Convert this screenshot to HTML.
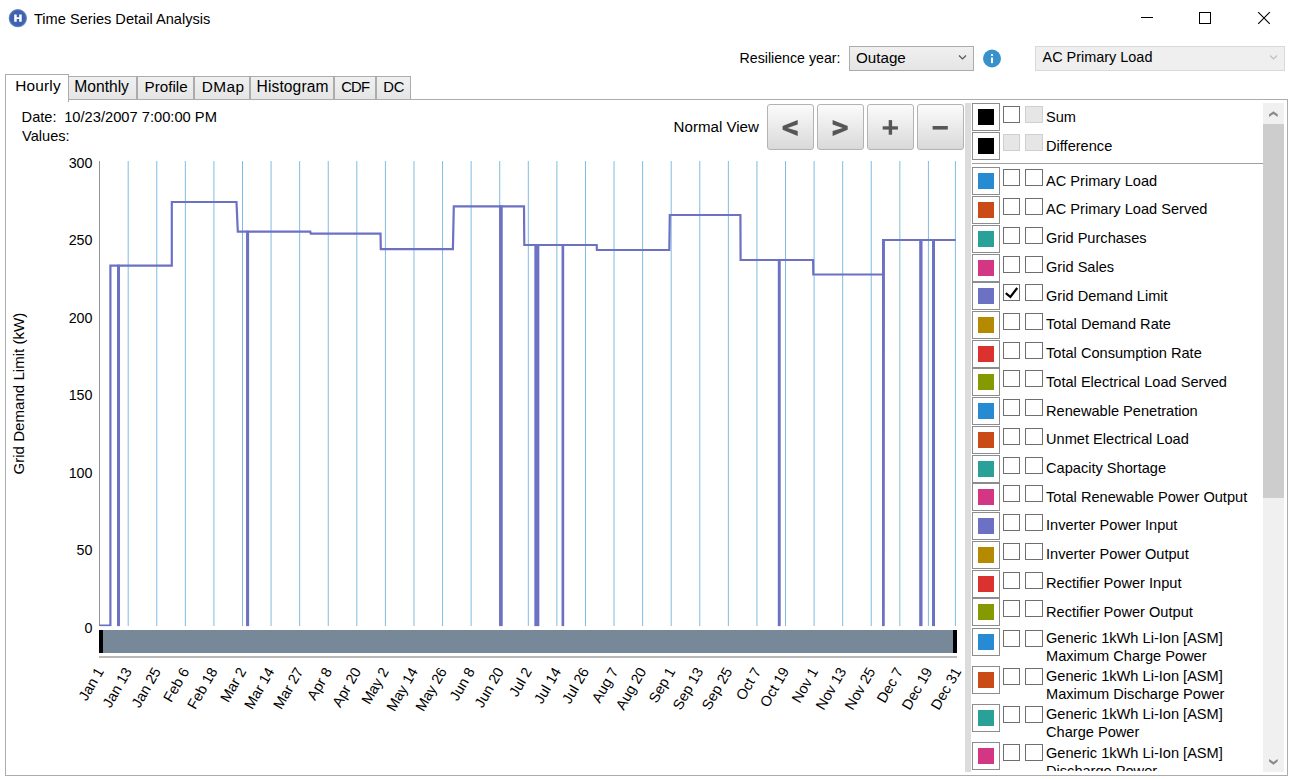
<!DOCTYPE html>
<html><head><meta charset="utf-8"><title>Time Series Detail Analysis</title>
<style>
html,body{margin:0;padding:0;width:1290px;height:779px;overflow:hidden;background:#fff;}
body{position:relative;font-family:"Liberation Sans", sans-serif;color:#000;}
.abs{position:absolute;box-sizing:content-box;}
.t{position:absolute;white-space:pre;line-height:1;}
.combo{border:1px solid #acacac;background:linear-gradient(#f0f0f0,#e5e5e5);}
.tab{border:1px solid #acacac;border-bottom:none;background:linear-gradient(#f0f0f0,#e5e5e5);}
.btn{border:1px solid #b3b3b3;border-radius:3px;background:linear-gradient(#fbfbfb,#d9d9d9);}
.xl{transform:rotate(-60deg);transform-origin:100% 84.65%;}
.sw{width:26px;height:26px;border:1px solid #8c8c8c;background:#fff;}
.sw div{position:absolute;left:5px;top:5px;width:16px;height:16px;}
.cb{border:1px solid #6f6f6f;background:#fff;}
.cb.dis{border-color:#cfcfcf;background:#e6e6e6;}
</style></head><body>
<svg class="abs" style="left:0;top:0" width="40" height="36">
<defs><filter id="bl" x="-30%" y="-30%" width="160%" height="160%"><feGaussianBlur stdDeviation="0.6"/></filter></defs>
<radialGradient id="ig"><stop offset="0.78" stop-color="#3d62b0"/><stop offset="0.9" stop-color="#3d62b0" stop-opacity="0.75"/><stop offset="1" stop-color="#3d62b0" stop-opacity="0"/></radialGradient><circle cx="17.8" cy="18.2" r="9.6" fill="url(#ig)"/>
<path d="M14.2 14.4h2.5v2.9h2.5v-2.9h2.5v7.4h-2.5v-2.8h-2.5v2.8h-2.5z" fill="#fff"/>
</svg>
<div class="t " style="left:34.0px;top:11.54px;font-size:14.6px;">Time Series Detail Analysis</div>
<svg class="abs" style="left:1130px;top:0" width="160" height="36">
<path d="M11 17.5h12" stroke="#000" stroke-width="1"/>
<rect x="69.5" y="12.5" width="11" height="11" fill="none" stroke="#000" stroke-width="1"/>
<path d="M128.2 12.2l11.6 11.6M139.8 12.2l-11.6 11.6" stroke="#000" stroke-width="1.1"/>
</svg>
<div class="t " style="left:739.5px;top:50.88px;font-size:14.2px;">Resilience year:</div>
<div class="abs combo" style="left:849px;top:46px;width:123px;height:23px;"></div>
<div class="t " style="left:856.0px;top:49.73px;font-size:15.2px;">Outage</div>
<svg class="abs" style="left:955px;top:50px" width="16" height="14"><path d="M4 5.5l3.5 3.5l3.5-3.5" fill="none" stroke="#555" stroke-width="1.2"/></svg>
<svg class="abs" style="left:980px;top:46px" width="24" height="24">
<circle cx="12" cy="12.5" r="9" fill="#3792cb"/>
<rect x="11" y="8" width="2" height="1.9" fill="#fff"/><rect x="11" y="11.6" width="2" height="5.5" fill="#fff"/>
</svg>
<div class="abs" style="left:1035px;top:46px;width:248px;height:23px;border:1px solid #d9d9d9;background:#efefef"></div>
<div class="t " style="left:1042.5px;top:50.37px;font-size:14.45px;">AC Primary Load</div>
<svg class="abs" style="left:1266px;top:50px" width="16" height="14"><path d="M4 5.5l3.5 3.5l3.5-3.5" fill="none" stroke="#bfbfbf" stroke-width="1.2"/></svg>
<div class="abs" style="left:5px;top:99px;width:1281px;height:675px;border:1px solid #acacac;background:#fff"></div>
<div class="abs tab" style="left:68px;top:76px;width:67px;height:22px;"></div>
<div class="t " style="left:74.3px;top:79.09px;font-size:15.6px;letter-spacing:0px;">Monthly</div>
<div class="abs tab" style="left:137px;top:76px;width:55px;height:22px;"></div>
<div class="t " style="left:144.6px;top:79.43px;font-size:15.2px;letter-spacing:0px;">Profile</div>
<div class="abs tab" style="left:194px;top:76px;width:54px;height:22px;"></div>
<div class="t " style="left:201.7px;top:79.26px;font-size:15.4px;letter-spacing:0.4px;">DMap</div>
<div class="abs tab" style="left:250px;top:76px;width:82px;height:22px;"></div>
<div class="t " style="left:256.6px;top:79.09px;font-size:15.6px;letter-spacing:0.1px;">Histogram</div>
<div class="abs tab" style="left:334px;top:76px;width:40px;height:22px;"></div>
<div class="t " style="left:341.2px;top:79.77px;font-size:14.8px;letter-spacing:-0.8px;">CDF</div>
<div class="abs tab" style="left:376px;top:76px;width:33px;height:22px;"></div>
<div class="t " style="left:383.2px;top:79.77px;font-size:14.8px;letter-spacing:0px;">DC</div>
<div class="abs" style="left:5px;top:74px;width:62px;height:27px;border:1px solid #acacac;border-bottom:none;background:#fff"></div>
<div class="t " style="left:15.2px;top:77.76px;font-size:15.4px;letter-spacing:0.2px;">Hourly</div>
<div class="t " style="left:21.6px;top:110.24px;font-size:14.6px;">Date:</div>
<div class="t " style="left:64.2px;top:110.16px;font-size:14.7px;">10/23/2007 7:00:00 PM</div>
<div class="t " style="left:22.0px;top:128.84px;font-size:14.6px;">Values:</div>
<div class="t " style="left:673.6px;top:118.62px;font-size:15.1px;">Normal View</div>
<div class="abs btn" style="left:767px;top:104px;width:45px;height:44px;"></div>
<div class="abs btn" style="left:817px;top:104px;width:45px;height:44px;"></div>
<div class="abs btn" style="left:867px;top:104px;width:45px;height:44px;"></div>
<div class="abs btn" style="left:917px;top:104px;width:45px;height:44px;"></div>
<svg class="abs" style="left:760px;top:100px" width="210" height="56">
<path d="M22.6 25.9L37.7 20V24.6L27.5 27.9L37.7 31.1V35.9L22.6 29.7Z" fill="#565656"/>
<path d="M87.7 25.9L72.6 20V24.6L82.8 27.9L72.6 31.1V35.9L87.7 29.7Z" fill="#565656"/>
<rect x="122.7" y="26.3" width="15.2" height="3.3" fill="#565656"/>
<rect x="128.7" y="20.1" width="3.4" height="14.6" fill="#565656"/>
<rect x="172.6" y="26" width="15.2" height="3.6" fill="#565656"/>
</svg>
<svg class="abs" style="left:0;top:0" width="965" height="779">
<line x1="128.18" y1="161" x2="128.18" y2="626" stroke="#80bcdf" stroke-width="1"/>
<line x1="156.76" y1="161" x2="156.76" y2="626" stroke="#80bcdf" stroke-width="1"/>
<line x1="185.34" y1="161" x2="185.34" y2="626" stroke="#80bcdf" stroke-width="1"/>
<line x1="213.92" y1="161" x2="213.92" y2="626" stroke="#80bcdf" stroke-width="1"/>
<line x1="242.50" y1="161" x2="242.50" y2="626" stroke="#80bcdf" stroke-width="1"/>
<line x1="271.08" y1="161" x2="271.08" y2="626" stroke="#80bcdf" stroke-width="1"/>
<line x1="299.66" y1="161" x2="299.66" y2="626" stroke="#80bcdf" stroke-width="1"/>
<line x1="328.24" y1="161" x2="328.24" y2="626" stroke="#80bcdf" stroke-width="1"/>
<line x1="356.82" y1="161" x2="356.82" y2="626" stroke="#80bcdf" stroke-width="1"/>
<line x1="385.40" y1="161" x2="385.40" y2="626" stroke="#80bcdf" stroke-width="1"/>
<line x1="413.98" y1="161" x2="413.98" y2="626" stroke="#80bcdf" stroke-width="1"/>
<line x1="442.56" y1="161" x2="442.56" y2="626" stroke="#80bcdf" stroke-width="1"/>
<line x1="471.14" y1="161" x2="471.14" y2="626" stroke="#80bcdf" stroke-width="1"/>
<line x1="499.72" y1="161" x2="499.72" y2="626" stroke="#80bcdf" stroke-width="1"/>
<line x1="528.30" y1="161" x2="528.30" y2="626" stroke="#80bcdf" stroke-width="1"/>
<line x1="556.88" y1="161" x2="556.88" y2="626" stroke="#80bcdf" stroke-width="1"/>
<line x1="585.46" y1="161" x2="585.46" y2="626" stroke="#80bcdf" stroke-width="1"/>
<line x1="614.04" y1="161" x2="614.04" y2="626" stroke="#80bcdf" stroke-width="1"/>
<line x1="642.62" y1="161" x2="642.62" y2="626" stroke="#80bcdf" stroke-width="1"/>
<line x1="671.20" y1="161" x2="671.20" y2="626" stroke="#80bcdf" stroke-width="1"/>
<line x1="699.78" y1="161" x2="699.78" y2="626" stroke="#80bcdf" stroke-width="1"/>
<line x1="728.36" y1="161" x2="728.36" y2="626" stroke="#80bcdf" stroke-width="1"/>
<line x1="756.94" y1="161" x2="756.94" y2="626" stroke="#80bcdf" stroke-width="1"/>
<line x1="785.52" y1="161" x2="785.52" y2="626" stroke="#80bcdf" stroke-width="1"/>
<line x1="814.10" y1="161" x2="814.10" y2="626" stroke="#80bcdf" stroke-width="1"/>
<line x1="842.68" y1="161" x2="842.68" y2="626" stroke="#80bcdf" stroke-width="1"/>
<line x1="871.26" y1="161" x2="871.26" y2="626" stroke="#80bcdf" stroke-width="1"/>
<line x1="899.84" y1="161" x2="899.84" y2="626" stroke="#80bcdf" stroke-width="1"/>
<line x1="928.42" y1="161" x2="928.42" y2="626" stroke="#80bcdf" stroke-width="1"/>
<line x1="955.40" y1="161" x2="955.40" y2="626" stroke="#80bcdf" stroke-width="1"/>
<line x1="99.5" y1="161" x2="99.5" y2="626" stroke="#939393" stroke-width="1"/>
<defs><clipPath id="pc"><rect x="99" y="150" width="857" height="476.3"/></clipPath></defs><g clip-path="url(#pc)">
<path d="M99.5 625.5 L110.4 625.5 L110.4 265.7 L118.5 265.7 L118.5 625.5 L118.5 265.7 L171.8 265.7 L171.8 202.0 L236.5 202.0 L237.8 231.7 L247.6 231.7 L247.6 625.5 L247.6 231.7 L310.3 231.7 L310.8 233.6 L380.5 233.6 L380.8 249.2 L452.9 249.2 L453.8 206.3 L501.0 206.3 L501.0 625.5 L501.0 206.3 L524.0 206.3 L524.3 245.0 L537.0 245.0 L537.0 625.5 L537.0 245.0 L563.0 245.0 L563.0 625.5 L563.0 245.0 L596.7 245.0 L596.9 250.0 L669.3 250.0 L669.8 215.0 L740.4 215.0 L740.6 260.0 L779.2 260.0 L779.2 625.5 L779.2 260.0 L813.1 260.0 L813.3 274.5 L883.3 274.5 L883.3 625.5 L883.8 240.0 L921.1 240.0 L921.1 625.5 L921.1 240.0 L933.2 240.0 L933.2 625.5 L933.2 240.0 L955.7 240.0" fill="none" stroke="#6c71c4" stroke-width="2.2" stroke-linejoin="miter"/>
<rect x="117.00" y="264.7" width="3.00" height="361.8" fill="#6c71c4" />
<rect x="246.10" y="230.7" width="3.00" height="395.8" fill="#6c71c4" />
<rect x="499.10" y="205.3" width="3.60" height="421.2" fill="#6c71c4" />
<rect x="534.35" y="244" width="5.00" height="382.5" fill="#6c71c4" />
<rect x="561.60" y="244" width="2.50" height="382.5" fill="#6c71c4" />
<rect x="777.80" y="259" width="2.80" height="367.5" fill="#6c71c4" />
<rect x="882.00" y="239" width="2.60" height="387.5" fill="#6c71c4" />
<rect x="919.20" y="239" width="3.20" height="387.5" fill="#6c71c4" />
<rect x="932.00" y="239" width="3.00" height="387.5" fill="#6c71c4" />
</g></svg>
<div class="abs" style="left:99px;top:630.4px;width:858px;height:22.8px;background:#778899"></div>
<div class="abs" style="left:99px;top:630.4px;width:4px;height:22.8px;background:#000"></div>
<div class="abs" style="left:953px;top:630.4px;width:3.6px;height:22.8px;background:#000"></div>
<div class="abs" style="left:99px;top:656.2px;width:857.5px;height:1.6px;background:#b9b9b9"></div>
<div class="t" style="right:1197.5px;top:620.70px;font-size:14.3px;text-align:right">0</div>
<div class="t" style="right:1197.5px;top:543.20px;font-size:14.3px;text-align:right">50</div>
<div class="t" style="right:1197.5px;top:465.70px;font-size:14.3px;text-align:right">100</div>
<div class="t" style="right:1197.5px;top:388.20px;font-size:14.3px;text-align:right">150</div>
<div class="t" style="right:1197.5px;top:310.70px;font-size:14.3px;text-align:right">200</div>
<div class="t" style="right:1197.5px;top:233.20px;font-size:14.3px;text-align:right">250</div>
<div class="t" style="right:1197.5px;top:155.70px;font-size:14.3px;text-align:right">300</div>
<div class="t" style="left:-61.2px;top:386.5px;width:160px;text-align:center;font-size:15.1px;transform:rotate(-90deg);transform-origin:50% 50%">Grid Demand Limit (kW)</div>
<div class="t xl" style="right:1185.90px;top:658.83px;font-size:14.5px">Jan 1</div>
<div class="t xl" style="right:1157.32px;top:658.83px;font-size:14.5px">Jan 13</div>
<div class="t xl" style="right:1128.74px;top:658.83px;font-size:14.5px">Jan 25</div>
<div class="t xl" style="right:1100.16px;top:658.83px;font-size:14.5px">Feb 6</div>
<div class="t xl" style="right:1071.58px;top:658.83px;font-size:14.5px">Feb 18</div>
<div class="t xl" style="right:1043.00px;top:658.83px;font-size:14.5px">Mar 2</div>
<div class="t xl" style="right:1014.42px;top:658.83px;font-size:14.5px">Mar 14</div>
<div class="t xl" style="right:985.84px;top:658.83px;font-size:14.5px">Mar 27</div>
<div class="t xl" style="right:957.26px;top:658.83px;font-size:14.5px">Apr 8</div>
<div class="t xl" style="right:928.68px;top:658.83px;font-size:14.5px">Apr 20</div>
<div class="t xl" style="right:900.10px;top:658.83px;font-size:14.5px">May 2</div>
<div class="t xl" style="right:871.52px;top:658.83px;font-size:14.5px">May 14</div>
<div class="t xl" style="right:842.94px;top:658.83px;font-size:14.5px">May 26</div>
<div class="t xl" style="right:814.36px;top:658.83px;font-size:14.5px">Jun 8</div>
<div class="t xl" style="right:785.78px;top:658.83px;font-size:14.5px">Jun 20</div>
<div class="t xl" style="right:757.20px;top:658.83px;font-size:14.5px">Jul 2</div>
<div class="t xl" style="right:728.62px;top:658.83px;font-size:14.5px">Jul 14</div>
<div class="t xl" style="right:700.04px;top:658.83px;font-size:14.5px">Jul 26</div>
<div class="t xl" style="right:671.46px;top:658.83px;font-size:14.5px">Aug 7</div>
<div class="t xl" style="right:642.88px;top:658.83px;font-size:14.5px">Aug 20</div>
<div class="t xl" style="right:614.30px;top:658.83px;font-size:14.5px">Sep 1</div>
<div class="t xl" style="right:585.72px;top:658.83px;font-size:14.5px">Sep 13</div>
<div class="t xl" style="right:557.14px;top:658.83px;font-size:14.5px">Sep 25</div>
<div class="t xl" style="right:528.56px;top:658.83px;font-size:14.5px">Oct 7</div>
<div class="t xl" style="right:499.98px;top:658.83px;font-size:14.5px">Oct 19</div>
<div class="t xl" style="right:471.40px;top:658.83px;font-size:14.5px">Nov 1</div>
<div class="t xl" style="right:442.82px;top:658.83px;font-size:14.5px">Nov 13</div>
<div class="t xl" style="right:414.24px;top:658.83px;font-size:14.5px">Nov 25</div>
<div class="t xl" style="right:385.66px;top:658.83px;font-size:14.5px">Dec 7</div>
<div class="t xl" style="right:357.08px;top:658.83px;font-size:14.5px">Dec 19</div>
<div class="t xl" style="right:328.50px;top:658.83px;font-size:14.5px">Dec 31</div>
<div class="abs" style="left:965px;top:103px;width:6px;height:669px;background:#dcdcdc"></div>
<div class="abs sw" style="left:972px;top:103.0px;"><div style="background:#000"></div></div>
<div class="abs cb" style="left:1003px;top:106.0px;width:15px;height:15px"></div>
<div class="abs cb dis" style="left:1025px;top:106.0px;width:16px;height:15px"></div>
<div class="t " style="left:1046.3px;top:109.30px;font-size:15px;transform:scaleX(0.973);transform-origin:0 0;">Sum</div>
<div class="abs sw" style="left:972px;top:132.4px;"><div style="background:#000"></div></div>
<div class="abs cb dis" style="left:1003px;top:134.2px;width:15px;height:15px"></div>
<div class="abs cb dis" style="left:1025px;top:134.2px;width:16px;height:15px"></div>
<div class="t " style="left:1046.3px;top:138.20px;font-size:15px;transform:scaleX(0.973);transform-origin:0 0;">Difference</div>
<div class="abs" style="left:972px;top:163px;width:291px;height:1px;background:#a0a0a0"></div>
<div class="abs sw" style="left:972px;top:167.3px;"><div style="background:#268bd2"></div></div>
<div class="abs cb" style="left:1003px;top:169.3px;width:15px;height:15px"></div>
<div class="abs cb" style="left:1025px;top:169.3px;width:16px;height:15px"></div>
<div class="t " style="left:1046.3px;top:173.00px;font-size:15px;transform:scaleX(0.973);transform-origin:0 0;">AC Primary Load</div>
<div class="abs sw" style="left:972px;top:196.0px;"><div style="background:#cb4b16"></div></div>
<div class="abs cb" style="left:1003px;top:198.0px;width:15px;height:15px"></div>
<div class="abs cb" style="left:1025px;top:198.0px;width:16px;height:15px"></div>
<div class="t " style="left:1046.3px;top:201.00px;font-size:15px;transform:scaleX(0.973);transform-origin:0 0;">AC Primary Load Served</div>
<div class="abs sw" style="left:972px;top:224.8px;"><div style="background:#2aa198"></div></div>
<div class="abs cb" style="left:1003px;top:226.8px;width:15px;height:15px"></div>
<div class="abs cb" style="left:1025px;top:226.8px;width:16px;height:15px"></div>
<div class="t " style="left:1046.3px;top:230.00px;font-size:15px;transform:scaleX(0.973);transform-origin:0 0;">Grid Purchases</div>
<div class="abs sw" style="left:972px;top:253.5px;"><div style="background:#d33682"></div></div>
<div class="abs cb" style="left:1003px;top:255.5px;width:15px;height:15px"></div>
<div class="abs cb" style="left:1025px;top:255.5px;width:16px;height:15px"></div>
<div class="t " style="left:1046.3px;top:259.00px;font-size:15px;transform:scaleX(0.973);transform-origin:0 0;">Grid Sales</div>
<div class="abs sw" style="left:972px;top:282.2px;"><div style="background:#6c71c4"></div></div>
<div class="abs cb" style="left:1003px;top:284.2px;width:15px;height:15px"></div>
<div class="abs cb" style="left:1025px;top:284.2px;width:16px;height:15px"></div>
<svg class="abs" style="left:1003px;top:284.2px" width="17" height="17"><path d="M2.8 9.2l4.6 3.8l6.8-9" fill="none" stroke="#000" stroke-width="2.2"/></svg>
<div class="t " style="left:1046.3px;top:288.00px;font-size:15px;transform:scaleX(0.973);transform-origin:0 0;">Grid Demand Limit</div>
<div class="abs sw" style="left:972px;top:311.0px;"><div style="background:#b58900"></div></div>
<div class="abs cb" style="left:1003px;top:313.0px;width:15px;height:15px"></div>
<div class="abs cb" style="left:1025px;top:313.0px;width:16px;height:15px"></div>
<div class="t " style="left:1046.3px;top:316.00px;font-size:15px;transform:scaleX(0.973);transform-origin:0 0;">Total Demand Rate</div>
<div class="abs sw" style="left:972px;top:339.7px;"><div style="background:#dc322f"></div></div>
<div class="abs cb" style="left:1003px;top:341.7px;width:15px;height:15px"></div>
<div class="abs cb" style="left:1025px;top:341.7px;width:16px;height:15px"></div>
<div class="t " style="left:1046.3px;top:345.00px;font-size:15px;transform:scaleX(0.973);transform-origin:0 0;">Total Consumption Rate</div>
<div class="abs sw" style="left:972px;top:368.4px;"><div style="background:#859900"></div></div>
<div class="abs cb" style="left:1003px;top:370.4px;width:15px;height:15px"></div>
<div class="abs cb" style="left:1025px;top:370.4px;width:16px;height:15px"></div>
<div class="t " style="left:1046.3px;top:374.00px;font-size:15px;transform:scaleX(0.973);transform-origin:0 0;">Total Electrical Load Served</div>
<div class="abs sw" style="left:972px;top:397.1px;"><div style="background:#268bd2"></div></div>
<div class="abs cb" style="left:1003px;top:399.1px;width:15px;height:15px"></div>
<div class="abs cb" style="left:1025px;top:399.1px;width:16px;height:15px"></div>
<div class="t " style="left:1046.3px;top:403.00px;font-size:15px;transform:scaleX(0.973);transform-origin:0 0;">Renewable Penetration</div>
<div class="abs sw" style="left:972px;top:425.9px;"><div style="background:#cb4b16"></div></div>
<div class="abs cb" style="left:1003px;top:427.9px;width:15px;height:15px"></div>
<div class="abs cb" style="left:1025px;top:427.9px;width:16px;height:15px"></div>
<div class="t " style="left:1046.3px;top:431.00px;font-size:15px;transform:scaleX(0.973);transform-origin:0 0;">Unmet Electrical Load</div>
<div class="abs sw" style="left:972px;top:454.6px;"><div style="background:#2aa198"></div></div>
<div class="abs cb" style="left:1003px;top:456.6px;width:15px;height:15px"></div>
<div class="abs cb" style="left:1025px;top:456.6px;width:16px;height:15px"></div>
<div class="t " style="left:1046.3px;top:460.00px;font-size:15px;transform:scaleX(0.973);transform-origin:0 0;">Capacity Shortage</div>
<div class="abs sw" style="left:972px;top:483.3px;"><div style="background:#d33682"></div></div>
<div class="abs cb" style="left:1003px;top:485.3px;width:15px;height:15px"></div>
<div class="abs cb" style="left:1025px;top:485.3px;width:16px;height:15px"></div>
<div class="t " style="left:1046.3px;top:489.00px;font-size:15px;transform:scaleX(0.973);transform-origin:0 0;">Total Renewable Power Output</div>
<div class="abs sw" style="left:972px;top:512.1px;"><div style="background:#6c71c4"></div></div>
<div class="abs cb" style="left:1003px;top:514.1px;width:15px;height:15px"></div>
<div class="abs cb" style="left:1025px;top:514.1px;width:16px;height:15px"></div>
<div class="t " style="left:1046.3px;top:517.00px;font-size:15px;transform:scaleX(0.973);transform-origin:0 0;">Inverter Power Input</div>
<div class="abs sw" style="left:972px;top:540.8px;"><div style="background:#b58900"></div></div>
<div class="abs cb" style="left:1003px;top:542.8px;width:15px;height:15px"></div>
<div class="abs cb" style="left:1025px;top:542.8px;width:16px;height:15px"></div>
<div class="t " style="left:1046.3px;top:546.00px;font-size:15px;transform:scaleX(0.973);transform-origin:0 0;">Inverter Power Output</div>
<div class="abs sw" style="left:972px;top:569.5px;"><div style="background:#dc322f"></div></div>
<div class="abs cb" style="left:1003px;top:571.5px;width:15px;height:15px"></div>
<div class="abs cb" style="left:1025px;top:571.5px;width:16px;height:15px"></div>
<div class="t " style="left:1046.3px;top:575.00px;font-size:15px;transform:scaleX(0.973);transform-origin:0 0;">Rectifier Power Input</div>
<div class="abs sw" style="left:972px;top:598.2px;"><div style="background:#859900"></div></div>
<div class="abs cb" style="left:1003px;top:600.2px;width:15px;height:15px"></div>
<div class="abs cb" style="left:1025px;top:600.2px;width:16px;height:15px"></div>
<div class="t " style="left:1046.3px;top:604.00px;font-size:15px;transform:scaleX(0.973);transform-origin:0 0;">Rectifier Power Output</div>
<div class="abs sw" style="left:972px;top:628.0px;"><div style="background:#268bd2"></div></div>
<div class="abs cb" style="left:1003px;top:630.0px;width:15px;height:15px"></div>
<div class="abs cb" style="left:1025px;top:630.0px;width:16px;height:15px"></div>
<div class="t " style="left:1046.3px;top:630.10px;font-size:15px;transform:scaleX(0.973);transform-origin:0 0;">Generic 1kWh Li-Ion [ASM]</div>
<div class="t " style="left:1046.3px;top:648.10px;font-size:15px;transform:scaleX(0.973);transform-origin:0 0;">Maximum Charge Power</div>
<div class="abs sw" style="left:972px;top:665.8px;"><div style="background:#cb4b16"></div></div>
<div class="abs cb" style="left:1003px;top:667.8px;width:15px;height:15px"></div>
<div class="abs cb" style="left:1025px;top:667.8px;width:16px;height:15px"></div>
<div class="t " style="left:1046.3px;top:667.90px;font-size:15px;transform:scaleX(0.973);transform-origin:0 0;">Generic 1kWh Li-Ion [ASM]</div>
<div class="t " style="left:1046.3px;top:685.90px;font-size:15px;transform:scaleX(0.973);transform-origin:0 0;">Maximum Discharge Power</div>
<div class="abs sw" style="left:972px;top:704.1px;"><div style="background:#2aa198"></div></div>
<div class="abs cb" style="left:1003px;top:706.1px;width:15px;height:15px"></div>
<div class="abs cb" style="left:1025px;top:706.1px;width:16px;height:15px"></div>
<div class="t " style="left:1046.3px;top:706.20px;font-size:15px;transform:scaleX(0.973);transform-origin:0 0;">Generic 1kWh Li-Ion [ASM]</div>
<div class="t " style="left:1046.3px;top:724.20px;font-size:15px;transform:scaleX(0.973);transform-origin:0 0;">Charge Power</div>
<div class="abs sw" style="left:972px;top:742.4px;"><div style="background:#d33682"></div></div>
<div class="abs cb" style="left:1003px;top:744.4px;width:15px;height:15px"></div>
<div class="abs cb" style="left:1025px;top:744.4px;width:16px;height:15px"></div>
<div class="t " style="left:1046.3px;top:744.50px;font-size:15px;transform:scaleX(0.973);transform-origin:0 0;">Generic 1kWh Li-Ion [ASM]</div>
<div class="t " style="left:1046.3px;top:762.50px;font-size:15px;transform:scaleX(0.973);transform-origin:0 0;">Discharge Power</div>
<div class="abs" style="left:972px;top:771px;width:291px;height:8px;background:#fff"></div>
<div class="abs" style="left:5px;top:775px;width:1283px;height:1px;background:#acacac"></div>
<div class="abs" style="left:1263px;top:103px;width:21px;height:669px;background:#f0f0f0"></div>
<div class="abs" style="left:1263px;top:124px;width:21px;height:374px;background:#cdcdcd"></div>
<svg class="abs" style="left:1263px;top:103px" width="21" height="669">
<path d="M6.1 11.3L10.4 8.2L14.7 11.3V14L10.4 10.9L6.1 14Z" fill="#8a8a8a"/>
<path d="M6.1 655.9L10.4 659L14.7 655.9V658.6L10.4 661.7L6.1 658.6Z" fill="#8a8a8a"/>
</svg>
</body></html>
